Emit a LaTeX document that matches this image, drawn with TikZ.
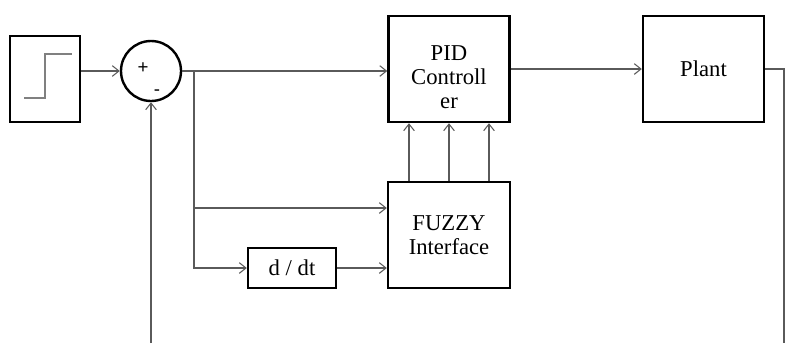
\documentclass[tikz,border=0pt]{standalone}
\usepackage{fontspec}
\setmainfont{Liberation Serif}
\setsansfont{Liberation Sans}
\usepackage{tikz}
\usetikzlibrary{arrows.meta}
\tikzset{>={Straight Barb[length=5pt,width=8pt]}}
\definecolor{wiregray}{HTML}{5a5a5a}
\tikzset{block/.style={draw,line width=1.8pt,inner sep=0pt,align=center,font=\fontsize{17}{18}\selectfont}}
\tikzset{wire/.style={->,color=wiregray,line width=0.8pt}}
\tikzset{txt/.style={inner sep=0pt,align=center,font=\fontsize{17}{18}\selectfont}}
\tikzset{sign/.style={inner sep=0pt,font=\sffamily\fontsize{14}{14}\selectfont}}

\begin{document}
\begin{tikzpicture}[x=0.75pt,y=-0.75pt]
	\useasboundingbox (0,0) rectangle (787,343);

	\node[block,minimum width=52.5pt,minimum height=64.5pt] (step) at (45,79) {};
	\draw [line width=1pt,color=gray] (24,98) -- (45,98) -- (45,54) -- (72,54);

	\node[block,circle,minimum size=45pt] (sum) at (151,71) {};
	\node[sign] (plus) at (143,68) {+};
	\node[sign] (minus) at (157,93) {-};

	\node[block,minimum width=90.75pt,minimum height=79.5pt] (pid) at (449,69) {};
	\node[txt] (pidtxt) at ([yshift=-6pt]pid.center) {PID\\Controll\\er};
	\node[block,minimum width=90.75pt,minimum height=79.5pt] (plant) at (703.5,69) {Plant};
	\node[block,minimum width=91.5pt,minimum height=79.5pt] (fuzzy) at (449,235) {FUZZY\\Interface};
	\node[block,minimum width=66pt,minimum height=30pt] (dt) at (292,268) {d / dt};

	\coordinate (br) at (194,71);
	\coordinate (bf) at (194,208);
	\coordinate (out) at (784,343);
	\coordinate (fb) at (151,343);

	\draw [wire] (step.east |- sum.west) -- (sum.west);
	\draw [wire] (sum.east) -- (br) -- (br -| pid.west);
	\draw [wire] (br) |- (dt.west);
	\draw [wire] (bf) -- (bf -| fuzzy.west);
	\draw [wire] (dt.east) -- (dt.east -| fuzzy.west);
	\foreach \s in {-40,0,40}
		\draw [wire] ([xshift=\s*0.75pt]fuzzy.north) -- ([xshift=\s*0.75pt]pid.south);
	\draw [wire] (pid.east) -- (plant.west);
	\draw [wire,-] (plant.east) -| (out);
	\draw [wire] (fb) -- (sum.south);
\end{tikzpicture}
\end{document}
